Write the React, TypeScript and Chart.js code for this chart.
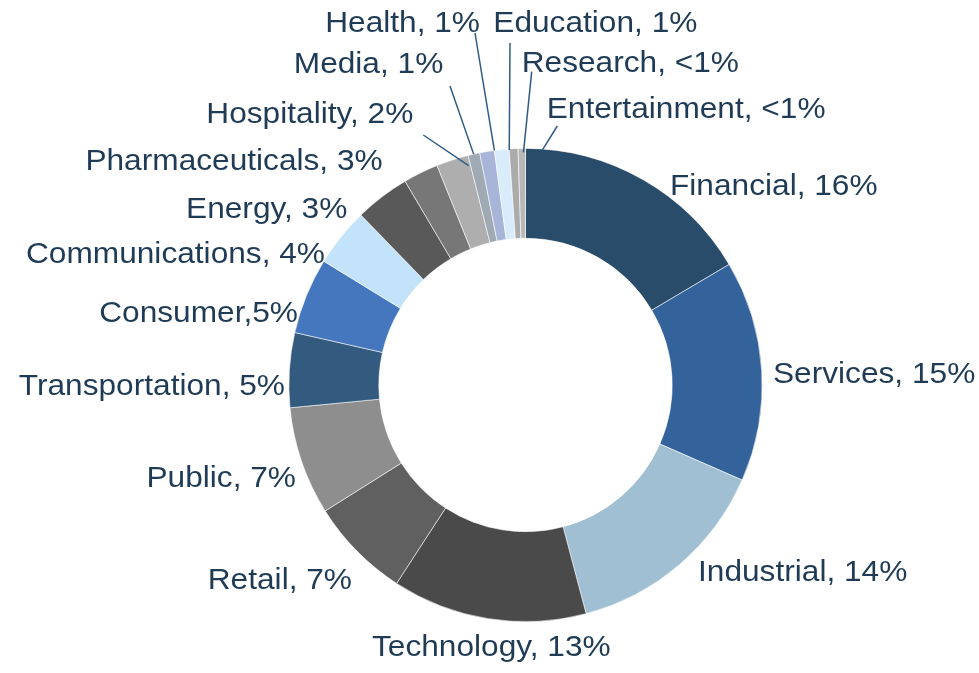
import React, { useEffect, useRef } from "react";
import { Chart, registerables } from "chart.js";

Chart.register(...registerables);

const categories = [
  "Financial", "Services", "Industrial", "Technology", "Retail", "Public",
  "Transportation", "Consumer", "Communications", "Energy", "Pharmaceuticals",
  "Hospitality", "Media", "Health", "Education", "Research", "Entertainment",
];

const shares = [16.5, 15.1, 14.3, 13.3, 6.9, 7.4, 5.1, 5.2, 4.0, 3.75, 2.4, 2.2, 0.8, 1.0, 1.0, 0.6, 0.5];

const labelTexts = [
  "Financial, 16%", "Services, 15%", "Industrial, 14%", "Technology, 13%", "Retail, 7%",
  "Public, 7%", "Transportation, 5%", "Consumer,5%", "Communications, 4%", "Energy, 3%",
  "Pharmaceuticals, 3%", "Hospitality, 2%", "Media, 1%", "Health, 1%", "Education, 1%",
  "Research, <1%", "Entertainment, <1%",
];

const sliceColors = [
  "#294C6A", "#34629B", "#A1BFD3", "#4A4A4A", "#606060", "#8E8E8E",
  "#335B80", "#4477BE", "#C3E3FA", "#595959", "#777777", "#AEAEAE",
  "#A0AAB5", "#A8B5D8", "#D8ECFC", "#ABABAB", "#B8B8B8",
];

// label placement relative to the doughnut centre (text anchor x, baseline y)
type Lead = { sx: number; sy: number; tipShift: number; tipInset: number };
type Place = { dx: number; dy: number; align: CanvasTextAlign; lead?: Lead };
const labelLayout: Place[] = [
  { dx: 144.5, dy: -190, align: "left" },
  { dx: 247.5, dy: -2, align: "left" },
  { dx: 172.5, dy: 196, align: "left" },
  { dx: -153.5, dy: 271, align: "left" },
  { dx: -173.5, dy: 204, align: "right" },
  { dx: -229.5, dy: 102, align: "right" },
  { dx: -240.5, dy: 10, align: "right" },
  { dx: -227.5, dy: -63, align: "right" },
  { dx: -200.5, dy: -122, align: "right" },
  { dx: -178.2, dy: -166.7, align: "right" },
  { dx: -142.8, dy: -215, align: "right" },
  { dx: -112.2, dy: -261.7, align: "right", lead: { sx: -102.2, sy: -250, tipShift: -0.5, tipInset: 10 } },
  { dx: -82.2, dy: -312.3, align: "right", lead: { sx: -75.5, sy: -299, tipShift: -1.5, tipInset: 0 } },
  { dx: -45.5, dy: -353.3, align: "right", lead: { sx: -50.5, sy: -352, tipShift: 0, tipInset: 0 } },
  { dx: -32.2, dy: -353.3, align: "left", lead: { sx: -15.5, sy: -342, tipShift: 0, tipInset: 1 } },
  { dx: -3.8, dy: -313.3, align: "left", lead: { sx: 6.2, sy: -313.3, tipShift: 1.3, tipInset: 4 } },
  { dx: 21.2, dy: -266.7, align: "left", lead: { sx: 31.8, sy: -259, tipShift: 4, tipInset: 2 } },
];

const TEXT_COLOR = "#1F3B55";
const LEAD_COLOR = "#2F5C86";
const FONT = "30px 'Liberation Sans', Arial, sans-serif";
const TEXT_STRETCH = 1.055;

const outsideLabels = {
  id: "outsideLabels",
  afterDraw(chart: any) {
    const ctx = chart.ctx as CanvasRenderingContext2D;
    const meta = chart.getDatasetMeta(0);
    ctx.save();
    meta.data.forEach((arc: any, i: number) => {
      const p = labelLayout[i];
      const cx = arc.x;
      const cy = arc.y;
      if (p.lead) {
        const a = arc.endAngle + (p.lead.tipShift * Math.PI) / 180;
        const r = arc.outerRadius - p.lead.tipInset;
        ctx.beginPath();
        ctx.strokeStyle = LEAD_COLOR;
        ctx.lineWidth = 1.5;
        ctx.moveTo(cx + p.lead.sx, cy + p.lead.sy);
        ctx.lineTo(cx + Math.cos(a) * r, cy + Math.sin(a) * r);
        ctx.stroke();
      }
      ctx.save();
      ctx.translate(cx + p.dx, cy + p.dy);
      ctx.scale(TEXT_STRETCH, 1);
      ctx.font = FONT;
      ctx.fillStyle = TEXT_COLOR;
      ctx.textAlign = p.align;
      ctx.textBaseline = "alphabetic";
      ctx.fillText(labelTexts[i], 0, 0);
      ctx.restore();
    });
    ctx.restore();
  },
};

export default function App() {
  const ref = useRef<HTMLCanvasElement | null>(null);
  useEffect(() => {
    if (!ref.current) return;
    const chart = new Chart(ref.current, {
      type: "doughnut",
      data: {
        labels: categories,
        datasets: [
          {
            data: shares,
            backgroundColor: sliceColors,
            borderColor: "rgba(255,255,255,0.75)",
            borderWidth: 0.75,
          },
        ],
      },
      options: {
        responsive: false,
        animation: false,
        cutout: "62%",
        layout: { padding: { left: 288.5, right: 216.5, top: 148, bottom: 51 } },
        plugins: { legend: { display: false }, tooltip: { enabled: false } },
      },
      plugins: [outsideLabels],
    });
    return () => chart.destroy();
  }, []);
  return (
    <div style={{ position: "absolute", left: 0, top: 0, width: 979, height: 673, background: "#fff" }}>
      <canvas ref={ref} width={979} height={673} style={{ display: "block" }} />
    </div>
  );
}
